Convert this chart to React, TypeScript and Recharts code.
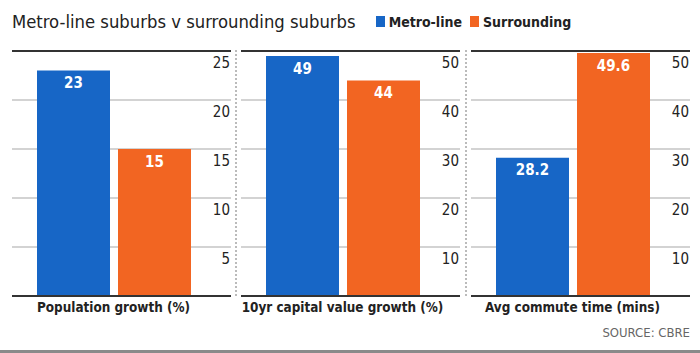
import React from 'react'
import { BarChart, Bar, XAxis, YAxis, CartesianGrid, ReferenceLine, LabelList } from 'recharts'

const categories = ['Population growth (%)', '10yr capital value growth (%)', 'Avg commute time (mins)']
const metroValues = [23, 49, 28.2]
const surroundingValues = [15, 44, 49.6]
const axisMax = [25, 50, 50]
const axisTicks = [
  [0, 5, 10, 15, 20, 25],
  [0, 10, 20, 30, 40, 50],
  [0, 10, 20, 30, 40, 50],
]

const BLUE = '#1766c6'
const ORANGE = '#f26522'
const FONT = "'Liberation Sans Narrow', 'DejaVu Sans Condensed', 'Roboto', sans-serif"

const PLOT_W = 219
const SIDE = 8
const CHART_H = 320
const panelLeft = [12, 241, 471]

function Panel({ index }: { index: number }) {
  const data = [
    {
      category: categories[index],
      metro: metroValues[index],
      surrounding: surroundingValues[index],
    },
  ]

  const renderTick = (p: any) => {
    if (p.payload.value === 0) return <g />
    return (
      <text
        x={SIDE + PLOT_W - 1}
        y={p.y + 17}
        textAnchor="end"
        fontFamily={FONT}
        fontSize={15}
        fill="#222"
      >
        {p.payload.value}
      </text>
    )
  }

  return (
    <div style={{ position: 'absolute', left: panelLeft[index] - SIDE, top: 0 }}>
      <BarChart
        width={PLOT_W + SIDE * 2}
        height={CHART_H}
        data={data}
        margin={{ top: 51, right: SIDE, left: SIDE, bottom: 0 }}
        barSize={73}
        barGap={8}
      >
        <CartesianGrid horizontal vertical={false} stroke="#a8a8a8" strokeWidth={1.2} />
        <XAxis
          dataKey="category"
          height={24}
          padding={{ left: 0, right: 16 }}
          tickLine={false}
          tickSize={0}
          tickMargin={6}
          interval={0}
          axisLine={{ stroke: '#333', strokeWidth: 2 }}
          tick={{ fill: '#222', fontSize: 13.4, fontWeight: 700, fontFamily: FONT }}
        />
        <YAxis
          orientation="right"
          mirror
          width={30}
          domain={[0, axisMax[index]]}
          ticks={axisTicks[index]}
          interval={0}
          axisLine={false}
          tickLine={false}
          tick={renderTick}
        />
        <ReferenceLine y={axisMax[index]} stroke="#333" strokeWidth={2} />
        <Bar dataKey="metro" fill={BLUE} isAnimationActive={false}>
          <LabelList
            dataKey="metro"
            position="insideTop"
            offset={7}
            fill="#fff"
            fontSize={15}
            fontWeight={700}
            fontFamily={FONT}
          />
        </Bar>
        <Bar dataKey="surrounding" fill={ORANGE} isAnimationActive={false}>
          <LabelList
            dataKey="surrounding"
            position="insideTop"
            offset={7}
            fill="#fff"
            fontSize={15}
            fontWeight={700}
            fontFamily={FONT}
          />
        </Bar>
      </BarChart>
    </div>
  )
}

export default function App() {
  return (
    <div
      style={{
        position: 'absolute',
        left: 0,
        top: 0,
        width: 700,
        height: 353,
        background: '#fff',
        fontFamily: FONT,
        overflow: 'hidden',
      }}
    >
      <div
        style={{
          position: 'absolute',
          left: 12,
          top: 11,
          display: 'flex',
          alignItems: 'center',
          whiteSpace: 'nowrap',
        }}
      >
        <span style={{ fontSize: 18.3, color: '#222' }}>Metro-line suburbs v surrounding suburbs</span>
        <span style={{ display: 'inline-block', width: 9, height: 11, background: BLUE, marginLeft: 20 }} />
        <span style={{ fontSize: 14, fontWeight: 700, color: '#222', marginLeft: 4 }}>Metro-line</span>
        <span style={{ display: 'inline-block', width: 9, height: 11, background: ORANGE, marginLeft: 8 }} />
        <span style={{ fontSize: 14, fontWeight: 700, color: '#222', marginLeft: 4 }}>Surrounding</span>
      </div>

      {categories.map((c, i) => (
        <Panel key={c} index={i} />
      ))}

      <div style={{ position: 'absolute', left: 235, top: 50, height: 246, borderLeft: '2px dotted #bbb' }} />
      <div style={{ position: 'absolute', left: 465, top: 50, height: 246, borderLeft: '2px dotted #bbb' }} />

      <div
        style={{
          position: 'absolute',
          right: 10,
          top: 325,
          fontSize: 13,
          color: '#666',
        }}
      >
        SOURCE: CBRE
      </div>
      <div style={{ position: 'absolute', left: 0, bottom: 0, width: 700, height: 3, background: '#8a8a8a' }} />
    </div>
  )
}
